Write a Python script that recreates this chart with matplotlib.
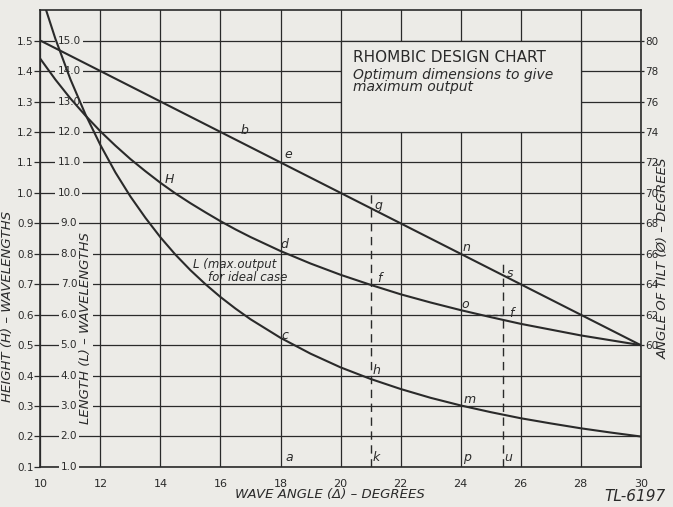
import numpy as np
import matplotlib.pyplot as plt
from matplotlib.patches import Rectangle

# Data
angles = [10, 10.5, 11, 11.5, 12, 12.5, 13, 13.5, 14, 14.5, 15, 15.5, 16, 16.5,
          17, 18, 19, 20, 21, 22, 23, 24, 25, 26, 27, 28, 29, 30]
height = [1.440, 1.372, 1.310, 1.254, 1.202, 1.155, 1.111, 1.071, 1.033, 0.998,
          0.966, 0.936, 0.907, 0.880, 0.855, 0.809, 0.768, 0.731, 0.698, 0.667,
          0.640, 0.615, 0.592, 0.570, 0.551, 0.532, 0.516, 0.500]
length = [16.58, 15.06, 13.73, 12.58, 11.57, 10.67, 9.88, 9.18, 8.54, 7.97,
          7.46, 7.00, 6.58, 6.20, 5.85, 5.24, 4.72, 4.27, 3.89, 3.56,
          3.27, 3.02, 2.80, 2.60, 2.43, 2.27, 2.13, 2.00]
tilt_angles = [10, 12, 14, 16, 18, 20, 22, 24, 26, 28, 30]
tilt = [80, 78, 76, 74, 72, 70, 68, 66, 64, 62, 60]

h_ticks = [0.1, 0.2, 0.3, 0.4, 0.5, 0.6, 0.7, 0.8, 0.9, 1.0, 1.1, 1.2, 1.3, 1.4, 1.5]
l_ticks = [1.0, 2.0, 3.0, 4.0, 5.0, 6.0, 7.0, 8.0, 9.0, 10.0, 11.0, 12.0, 13.0, 14.0, 15.0]
tilt_ticks = [60, 62, 64, 66, 68, 70, 72, 74, 76, 78, 80]
x_ticks = [10, 12, 14, 16, 18, 20, 22, 24, 26, 28, 30]
k_angle = 21.0
u_angle = 25.4

paper = '#ecebe7'
ink = '#2a2a2a'

fig = plt.figure(figsize=(6.73, 5.07), dpi=100)
fig.patch.set_facecolor(paper)
ax = fig.add_axes([0.060, 0.079, 0.892, 0.901])
ax.set_facecolor(paper)
la = ax.twinx()   # length scale (L = 10 H)
tw = ax.twinx()   # angle of tilt (2 degrees per 0.1 H)

ax.set_xlim(10, 30)
ax.set_ylim(0.1, 1.6)
la.set_ylim(1, 16)
tw.set_ylim(52, 82)

# grid
ax.set_xticks(x_ticks)
ax.set_yticks(h_ticks)
ax.set_yticklabels(['%.1f' % v for v in h_ticks])
ax.grid(True, color=ink, lw=0.9)
ax.set_axisbelow(True)
ax.tick_params(axis='x', length=0, pad=9, labelsize=8, colors=ink)
ax.tick_params(axis='y', length=4, width=0.9, pad=1, labelsize=7.5, colors=ink)
for sp in ax.spines.values():
    sp.set_color(ink)
    sp.set_linewidth(1.2)

la.set_yticks([])
for sp in la.spines.values():
    sp.set_visible(False)

tw.set_yticks(tilt_ticks)
tw.tick_params(axis='y', length=2, width=0.9, pad=1, labelsize=7.5, colors=ink)
for sp in tw.spines.values():
    sp.set_visible(False)

# title box hides the grid
ax.add_patch(Rectangle((20, 1.2), 8, 0.3, facecolor=paper, edgecolor=ink,
                       lw=0.9, zorder=2))
ax.text(20.4, 1.445, 'RHOMBIC DESIGN CHART', fontsize=11, color=ink,
        va='center', ha='left', zorder=3)
ax.text(20.4, 1.388, 'Optimum dimensions to give', fontsize=10, style='italic',
        color=ink, va='center', ha='left', zorder=3)
ax.text(20.4, 1.347, 'maximum output', fontsize=10, style='italic',
        color=ink, va='center', ha='left', zorder=3)

# length labels sit on the grid lines
for v in l_ticks:
    ax.text(10.95, v, '%.1f' % v, transform=la.transData, fontsize=7.5,
            color=ink, ha='center', va='center', zorder=3,
            bbox=dict(facecolor=paper, edgecolor='none', pad=1.5))
ax.text(11.5, 5.55, 'LENGTH (L) \u2013 WAVELENGTHS', transform=la.transData,
        rotation=90, fontsize=9.5, style='italic', color=ink,
        ha='center', va='center', zorder=3,
        bbox=dict(facecolor=paper, edgecolor='none', pad=0.5))

# curves
ax.plot(angles, height, color=ink, lw=1.5, zorder=4)
la.plot(angles, length, color=ink, lw=1.5)
tw.plot(tilt_angles, tilt, color=ink, lw=1.5)

# dashed construction lines
ax.plot([k_angle, k_angle], [0.1, 1.0], color=ink, lw=1.0,
        linestyle=(0, (6, 4)), zorder=4)
ax.plot([u_angle, u_angle], [0.1, 0.765], color=ink, lw=1.0,
        linestyle=(0, (6, 4)), zorder=4)
ax.plot([24.85, u_angle], [0.6, 0.6], color=ink, lw=1.0,
        linestyle=(0, (3, 2)), zorder=4)

# letter labels
letters = [('b', 16.8, 1.205), ('e', 18.25, 1.125), ('g', 21.25, 0.96),
           ('n', 24.2, 0.822), ('s', 25.65, 0.735),
           ('H', 14.3, 1.045), ('d', 18.12, 0.83), ('f', 21.3, 0.72),
           ('o', 24.15, 0.635), ('f', 25.7, 0.605),
           ('c', 18.15, 0.53), ('h', 21.2, 0.416), ('m', 24.3, 0.322),
           ('a', 18.3, 0.13), ('k', 21.2, 0.13), ('p', 24.2, 0.13),
           ('u', 25.6, 0.13)]
for s, x, y in letters:
    ax.text(x, y, s, fontsize=9, style='italic', color=ink,
            ha='center', va='center', zorder=5)
ax.text(15.1, 0.765, 'L (max.output', fontsize=8.5, style='italic', color=ink,
        ha='left', va='center', zorder=5)
ax.text(15.6, 0.722, 'for ideal case', fontsize=8.5, style='italic', color=ink,
        ha='left', va='center', zorder=5)

# axis titles
fig.text(0.49, 0.024, 'WAVE ANGLE (\u0394) \u2013 DEGREES', fontsize=9.5,
         style='italic', color=ink, ha='center', va='center')
fig.text(0.943, 0.021, 'TL-6197', fontsize=11, style='italic', color=ink,
         ha='center', va='center')
fig.text(0.011, 0.396, 'HEIGHT (H) \u2013 WAVELENGTHS', fontsize=9.5,
         style='italic', color=ink, rotation=90, ha='center', va='center')
fig.text(0.986, 0.49, 'ANGLE OF TILT (\u00d8) \u2013 DEGREES', fontsize=9.5,
         style='italic', color=ink, rotation=90, ha='center', va='center')

fig.savefig('out.png', dpi=100, facecolor=paper)
